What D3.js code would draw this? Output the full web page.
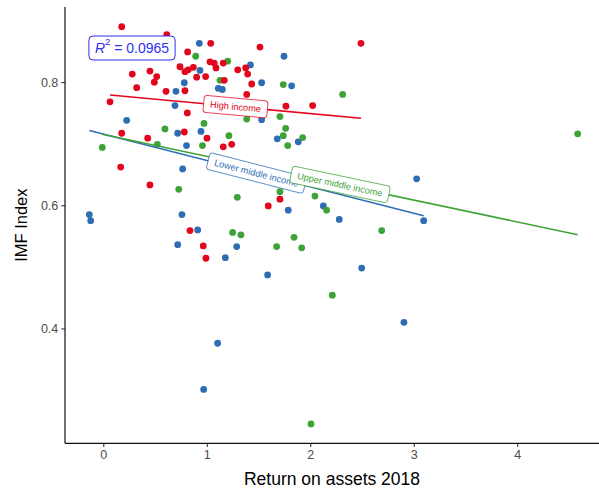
<!DOCTYPE html>
<html>
<head>
<meta charset="utf-8">
<script src="https://cdn.jsdelivr.net/npm/d3@7"></script>
<style>
  body { margin: 0; background: #fff; }
  svg { display: block; }
  text { font-family: "Liberation Sans", Arial, Helvetica, sans-serif; }
</style>
</head>
<body>
<svg id="chart" width="599" height="493"></svg>
<script>
// Income groups and their colours
const groups = ["High income", "Lower middle income", "Upper middle income"];
const groupColors = ["#E3051B", "#2E6DB4", "#3DA336"];

// High income: return on assets 2018 / IMF index
const highX = [0.178, 0.613, 1.038, 0.815, 1.514, 2.490, 0.280, 0.451, 0.516, 0.493,
               0.323, 0.606, 0.789, 0.741, 0.789, 0.821, 0.870, 0.902, 0.989, 1.031,
               1.072, 1.089, 1.159, 1.169, 1.299, 1.376, 1.395, 1.434, 1.386, 1.765,
               2.023, 0.065, 0.812, 0.178, 0.783, 0.429, 1.002, 1.159, 1.241, 0.168,
               0.451, 0.838, 0.966, 0.992, 1.594, 1.707];
const highY = [0.890, 0.877, 0.863, 0.849, 0.857, 0.863, 0.813, 0.818, 0.809, 0.800,
               0.791, 0.785, 0.786, 0.825, 0.817, 0.820, 0.824, 0.808, 0.809, 0.833,
               0.831, 0.823, 0.831, 0.803, 0.820, 0.823, 0.813, 0.797, 0.780, 0.761,
               0.762, 0.768, 0.750, 0.717, 0.719, 0.709, 0.709, 0.695, 0.699, 0.662,
               0.633, 0.559, 0.534, 0.514, 0.599, 0.610];

// Lower middle income
const lowerX = [0.928, 1.746, 0.934, 1.422, 0.783, 1.111, 1.150, 1.530, 1.820, 0.702,
                0.693, 0.226, 0.719, 0.944, 0.804, 1.681, 1.884, 1.530, 0.767, -0.135,
                -0.122, 0.760, 0.912, 0.719, 1.289, 1.179, 1.787, 2.126, 2.280, 3.028,
                3.096, 2.497, 1.588, 1.105, 0.970, 2.905];
const lowerY = [0.863, 0.842, 0.819, 0.828, 0.799, 0.790, 0.788, 0.799, 0.794, 0.785,
                0.762, 0.738, 0.717, 0.720, 0.697, 0.708, 0.703, 0.739, 0.659, 0.585,
                0.575, 0.585, 0.560, 0.536, 0.533, 0.515, 0.592, 0.599, 0.577, 0.643,
                0.575, 0.498, 0.487, 0.376, 0.301, 0.410];

// Upper middle income
const upperX = [0.893, 1.202, 1.128, 1.739, 2.313, 1.707, 1.386, 0.973, 0.596, 1.762,
                1.214, 1.739, 1.927, 1.782, 0.958, 0.522, -0.010, 0.729, 1.295, 1.707,
                2.045, 2.158, 2.690, 1.250, 1.330, 1.843, 1.675, 1.917, 4.584, 2.213,
                2.007];
const upperY = [0.842, 0.834, 0.803, 0.796, 0.780, 0.744, 0.740, 0.733, 0.724, 0.725,
                0.713, 0.713, 0.710, 0.697, 0.697, 0.699, 0.694, 0.626, 0.613, 0.622,
                0.615, 0.592, 0.559, 0.556, 0.552, 0.548, 0.533, 0.531, 0.716, 0.454,
                0.245];

// Linear fits per group (intercept, slope), in group order
const fitIntercept = [0.780, 0.7158, 0.715];
const fitSlope = [-0.0155, -0.0429, -0.0355];

// Axis ticks and annotation
const xTicks = [0, 1, 2, 3, 4];
const yTicks = [0.4, 0.6, 0.8];
const rSquaredText = "0.0965";

const seriesX = [highX, lowerX, upperX];
const seriesY = [highY, lowerY, upperY];

const svg = d3.select("#chart");
const panel = { left: 65, right: 599, top: 7, bottom: 443.3 };

const x = d3.scaleLinear().domain([-0.37, 4.79]).range([panel.left, panel.right]);
const y = d3.scaleLinear().domain([0.2135, 0.922]).range([panel.bottom, panel.top]);

// Points
const pointOrder = [1, 2, 0];
pointOrder.forEach(g => {
  const pts = seriesX[g].map((v, i) => ({ x: v, y: seriesY[g][i] }));
  svg.append("g")
    .selectAll("circle")
    .data(pts)
    .join("circle")
    .attr("cx", d => x(d.x))
    .attr("cy", d => y(d.y))
    .attr("r", 3.4)
    .attr("fill", groupColors[g]);
});

// Fit lines over each group's x range
const fits = groups.map((name, g) => {
  const [x0, x1] = d3.extent(seriesX[g]);
  const f = v => fitIntercept[g] + fitSlope[g] * v;
  return { name, g, x0, x1, y0: f(x0), y1: f(x1) };
});

svg.append("g")
  .selectAll("line")
  .data(fits)
  .join("line")
  .attr("x1", d => x(d.x0))
  .attr("y1", d => y(d.y0))
  .attr("x2", d => x(d.x1))
  .attr("y2", d => y(d.y1))
  .attr("stroke", d => groupColors[d.g])
  .attr("stroke-width", 1.6);

// Labels sitting on the middle of each fit line
const labelLayer = svg.append("g");
fits.forEach(d => {
  const px0 = x(d.x0), py0 = y(d.y0), px1 = x(d.x1), py1 = y(d.y1);
  const cx = (px0 + px1) / 2, cy = (py0 + py1) / 2;
  const angle = Math.atan2(py1 - py0, px1 - px0) * 180 / Math.PI;
  const lg = labelLayer.append("g")
    .attr("transform", `translate(${cx},${cy}) rotate(${angle})`);
  const t = lg.append("text")
    .attr("text-anchor", "middle")
    .attr("dy", "0.35em")
    .attr("font-size", 9.2)
    .attr("fill", groupColors[d.g])
    .text(d.name);
  const w = t.node().getComputedTextLength() + 13;
  const h = 17;
  lg.insert("rect", "text")
    .attr("x", -w / 2)
    .attr("y", -h / 2)
    .attr("width", w)
    .attr("height", h)
    .attr("rx", 3)
    .attr("fill", "#fff")
    .attr("stroke", groupColors[d.g])
    .attr("stroke-opacity", 0.75)
    .attr("stroke-width", 1);
});

// R squared annotation
const rg = svg.append("g").attr("transform", "translate(132,48)");
const rt = rg.append("text")
  .attr("text-anchor", "middle")
  .attr("dy", "0.35em")
  .attr("font-size", 14)
  .attr("fill", "#2F2FF0");
rt.append("tspan").attr("font-style", "italic").text("R");
rt.append("tspan").attr("font-size", 9.5).attr("dy", "-0.8em").text("2");
rt.append("tspan").attr("dy", "0.55em").text(" = " + rSquaredText);
const rw = rt.node().getComputedTextLength() + 12;
rg.insert("rect", "text")
  .attr("x", -rw / 2)
  .attr("y", -12)
  .attr("width", rw)
  .attr("height", 24)
  .attr("rx", 4)
  .attr("fill", "#fff")
  .attr("stroke", "#2F2FF0")
  .attr("stroke-width", 1);

// Axes
const xAxis = svg.append("g")
  .attr("transform", `translate(0,${panel.bottom})`)
  .call(d3.axisBottom(x).tickValues(xTicks).tickFormat(d3.format("d")).tickSizeOuter(0).tickSize(3.7).tickPadding(3));
const yAxis = svg.append("g")
  .attr("transform", `translate(${panel.left},0)`)
  .call(d3.axisLeft(y).tickValues(yTicks).tickFormat(d3.format(".1f")).tickSizeOuter(0).tickSize(3.7).tickPadding(3));

[xAxis, yAxis].forEach(a => {
  a.select(".domain").attr("stroke", "#111").attr("stroke-width", 1.2);
  a.selectAll(".tick line").attr("stroke", "#222").attr("stroke-width", 1);
  a.selectAll(".tick text").attr("fill", "#4D4D4D").attr("font-size", 12.5)
    .attr("font-family", "'Liberation Sans', Arial, sans-serif");
});
xAxis.select(".domain").attr("d", `M${panel.left},0H${panel.right}`);
yAxis.select(".domain").attr("d", `M0,${panel.top}V${panel.bottom}`);

// Axis titles
svg.append("text")
  .attr("x", (panel.left + panel.right) / 2)
  .attr("y", 485)
  .attr("text-anchor", "middle")
  .attr("font-size", 17.5)
  .attr("fill", "#000")
  .text("Return on assets 2018");

svg.append("text")
  .attr("transform", `translate(27,${(panel.top + panel.bottom) / 2}) rotate(-90)`)
  .attr("text-anchor", "middle")
  .attr("font-size", 16.5)
  .attr("fill", "#000")
  .text("IMF Index");
</script>
</body>
</html>
